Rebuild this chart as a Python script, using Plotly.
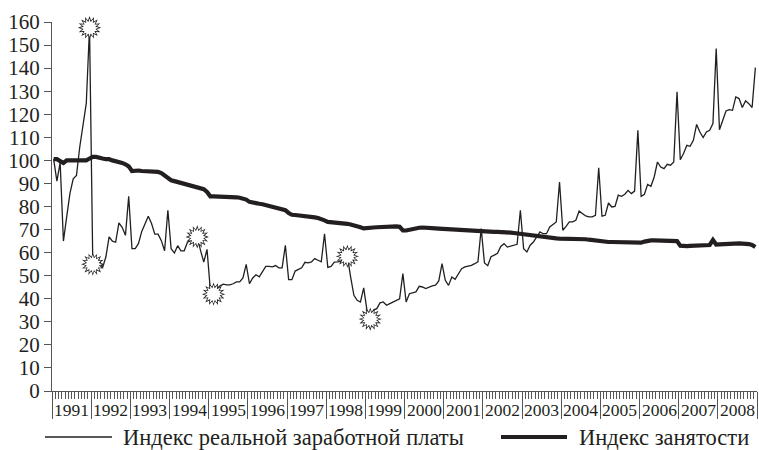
import plotly.graph_objects as go

# ---------------- data ----------------
years = list(range(1991, 2009))
year_labels = [str(y) for y in years]
series_names = ["Индекс реальной заработной платы", "Индекс занятости"]

# monthly real wage index, Jan 1991 ... Dec 2008 (one row per year)
wage_index = [
    100.5, 91.0, 99.0, 65.0, 75.5, 85.7, 92.0, 93.5, 105.8, 116.0, 124.7, 157.5,
    55.0, 55.5, 56.7, 53.5, 58.1, 66.8, 65.0, 64.5, 72.9, 71.0, 67.5, 84.4,
    61.7, 61.7, 64.0, 69.2, 72.9, 75.8, 72.6, 68.0, 68.0, 65.2, 60.8, 78.4,
    61.7, 59.8, 63.0, 60.8, 60.8, 64.5, 65.2, 66.0, 66.8, 61.0, 55.9, 61.4,
    44.0, 42.0, 44.4, 45.6, 46.3, 46.0, 46.0, 46.5, 47.3, 47.3, 49.0, 54.9,
    46.5, 49.0, 50.4, 49.5, 52.0, 54.0, 54.0, 53.8, 54.4, 53.4, 53.4, 63.2,
    48.3, 48.3, 52.0, 52.7, 53.4, 55.8, 55.6, 56.0, 57.4, 56.7, 56.0, 68.2,
    53.6, 54.0, 55.9, 56.0, 56.2, 57.0, 58.4, 49.4, 41.5, 39.3, 38.6, 44.7,
    35.0, 31.2, 35.0, 35.7, 38.2, 38.6, 37.2, 37.9, 38.6, 39.3, 40.0, 50.9,
    38.6, 42.2, 42.5, 43.0, 45.4, 45.1, 44.4, 45.1, 45.6, 45.9, 47.7, 55.2,
    48.0, 45.8, 49.4, 48.4, 50.5, 53.0, 53.8, 54.0, 54.5, 55.2, 56.0, 70.4,
    55.5, 54.3, 58.2, 58.9, 59.7, 62.7, 63.9, 62.4, 62.7, 63.2, 63.6, 78.4,
    61.7, 60.3, 63.2, 64.6, 66.8, 69.0, 68.2, 68.2, 71.1, 72.3, 73.3, 90.6,
    69.7, 71.4, 73.3, 73.3, 74.0, 78.0, 76.9, 75.9, 75.5, 75.5, 76.2, 96.8,
    75.8, 76.2, 81.5, 79.8, 80.0, 84.9, 84.4, 85.3, 87.0, 85.6, 86.7, 113.0,
    84.4, 85.3, 89.6, 88.8, 92.8, 99.3, 97.1, 96.4, 98.3, 97.9, 99.3, 129.7,
    100.3, 103.0, 106.5, 106.1, 108.7, 115.6, 112.3, 109.9, 112.3, 113.0, 116.0, 148.5,
    113.3, 117.4, 121.4, 122.0, 121.7, 127.5, 126.8, 122.9, 125.8, 124.6, 122.9, 140.2,
]

# monthly employment index, Jan 1991 ... Dec 2008
employment_index = [
    100.5, 100.5, 99.7, 98.9, 100.0, 100.2, 100.0, 100.0, 100.0, 99.7, 100.0, 100.8,
    101.5, 101.5, 101.0, 100.8, 100.5, 100.5, 100.0, 99.7, 99.3, 98.9, 98.3, 97.4,
    95.4, 95.7, 95.6, 95.4, 95.4, 95.4, 95.4, 95.4, 95.0, 94.5, 93.5, 92.1,
    91.4, 91.0, 90.6, 90.2, 89.9, 89.6, 89.2, 88.8, 88.4, 88.0, 87.5, 86.3,
    84.4, 84.4, 84.4, 84.3, 84.4, 84.4, 84.4, 84.2, 84.0, 83.8, 83.5, 83.0,
    82.0, 81.6, 81.4, 81.2, 81.0, 80.6, 80.3, 80.0, 79.6, 79.3, 79.0, 78.4,
    77.2, 76.4, 76.3, 76.2, 76.1, 75.9, 75.7, 75.5, 75.3, 75.0, 74.6, 74.0,
    73.3, 73.2, 73.1, 73.0, 73.0, 72.8, 72.5, 72.2, 71.9, 71.5, 71.0, 70.5,
    70.5, 70.7, 70.9, 71.0, 71.1, 71.2, 71.3, 71.3, 71.4, 71.4, 71.2, 69.6,
    69.6, 70.0, 70.4, 70.6, 70.8, 70.9, 70.9, 70.8, 70.6, 70.5, 70.4, 70.3,
    70.1, 70.0, 70.0, 70.0, 70.0, 69.9, 69.8, 69.7, 69.6, 69.5, 69.4, 69.4,
    69.3, 69.2, 69.1, 69.0, 69.0, 69.0, 69.0, 68.8, 68.7, 68.5, 68.3, 68.2,
    68.0, 67.7, 67.4, 67.2, 67.0, 66.8, 66.6, 66.5, 66.4, 66.3, 66.2, 66.1,
    66.1, 66.2, 66.2, 66.2, 66.1, 66.1, 66.0, 65.8, 65.6, 65.4, 65.2, 65.0,
    64.6, 64.6, 64.6, 64.6, 64.6, 64.6, 64.5, 64.4, 64.3, 64.3, 64.2, 64.2,
    64.3, 64.8, 65.2, 65.3, 65.3, 65.3, 65.2, 65.2, 65.2, 65.1, 65.1, 65.0,
    63.0, 62.8, 62.8, 62.9, 63.0, 63.0, 63.0, 63.1, 63.2, 63.3, 65.5, 63.5,
    63.6, 63.7, 63.8, 64.0, 64.1, 64.1, 64.0, 63.9, 63.9, 63.7, 63.3, 62.4,
]

# months marked with a starburst on the wage line
star_months = [11, 12, 44, 49, 90, 97]
y_ticks = list(range(0, 161, 10))

# ---------------- style ----------------
INK = "#231f20"
AX = "#555555"
FONT = "Times New Roman, Liberation Serif, Times, serif"

months = list(range(len(wage_index)))
year_bounds = [12 * k - 0.5 for k in range(len(years) + 1)]
month_bounds = [m - 0.5 for m in range(len(months) + 1)]
year_centers = [12 * k + 5.5 for k in range(len(years))]

fig = go.Figure()
fig.add_trace(go.Scatter(x=months, y=employment_index, mode="lines",
                         line=dict(color=INK, width=4.2), name=series_names[1],
                         showlegend=False, hoverinfo="skip"))
fig.add_trace(go.Scatter(x=months, y=wage_index, mode="lines",
                         line=dict(color=INK, width=1.3), name=series_names[0],
                         showlegend=False, hoverinfo="skip"))

sx = star_months
sy = [wage_index[m] for m in star_months]
S = 15
for size, col in ((S, INK), (S - 3.0, "white")):
    for ang in (0, 22.5, 45, 67.5):
        fig.add_trace(go.Scatter(x=sx, y=sy, mode="markers", cliponaxis=False,
                                 marker=dict(symbol="star-square", size=size, angle=ang,
                                             color=col, line=dict(width=0)),
                                 showlegend=False, hoverinfo="skip"))

# year labels under the axis
annotations = []
for xc, lab in zip(year_centers, year_labels):
    annotations.append(dict(x=xc, y=-0.0515, xref="x", yref="paper", text=lab,
                            showarrow=False, xanchor="center", yanchor="middle",
                            font=dict(family=FONT, size=17.5, color=INK)))

# manual legend (long line samples like the original)
W, H, L, R, T, B = 759, 450, 52, 2, 22, 59
pw, ph = W - L - R, H - T - B
def px(x):
    return (x - L) / pw
def py(y):
    return (H - B - y) / ph

shapes = []
leg_y = py(437)
for (x0, x1, xt), width, name in (((45, 112, 121), 1.3, series_names[0]),
                                   ((501, 567, 577), 4.2, series_names[1])):
    shapes.append(dict(type="line", xref="paper", yref="paper", x0=px(x0), x1=px(x1),
                       y0=leg_y, y1=leg_y, line=dict(color=INK, width=width)))
    annotations.append(dict(x=px(xt), y=leg_y, xref="paper", yref="paper", text=name,
                            showarrow=False, xanchor="left", yanchor="middle",
                            font=dict(family=FONT, size=22.5, color=INK)))

fig.update_layout(
    width=W, height=H,
    margin=dict(l=L, r=R, t=T, b=B),
    plot_bgcolor="white", paper_bgcolor="white",
    showlegend=False,
    font=dict(family=FONT, color=INK),
    annotations=annotations, shapes=shapes,
    xaxis=dict(range=[-0.5, len(months) - 0.5], showgrid=False, zeroline=False,
               showline=True, linecolor=AX, linewidth=1,
               tickmode="array", tickvals=year_bounds, showticklabels=False,
               ticks="outside", ticklen=27, tickcolor=AX, tickwidth=1,
               minor=dict(tickmode="array", tickvals=month_bounds, ticks="outside",
                          ticklen=7, tickcolor=AX, tickwidth=1, showgrid=False)),
    yaxis=dict(range=[0, 160], showgrid=False, zeroline=False,
               showline=True, linecolor=AX, linewidth=1,
               tickmode="array", tickvals=y_ticks, ticks="outside", ticklen=7,
               tickcolor=AX, tickwidth=1,
               tickfont=dict(family=FONT, size=21, color=INK)),
)

fig.write_html("out.html", config={"displayModeBar": False},
               post_script="document.body.style.margin='0';document.body.style.overflow='hidden';")
